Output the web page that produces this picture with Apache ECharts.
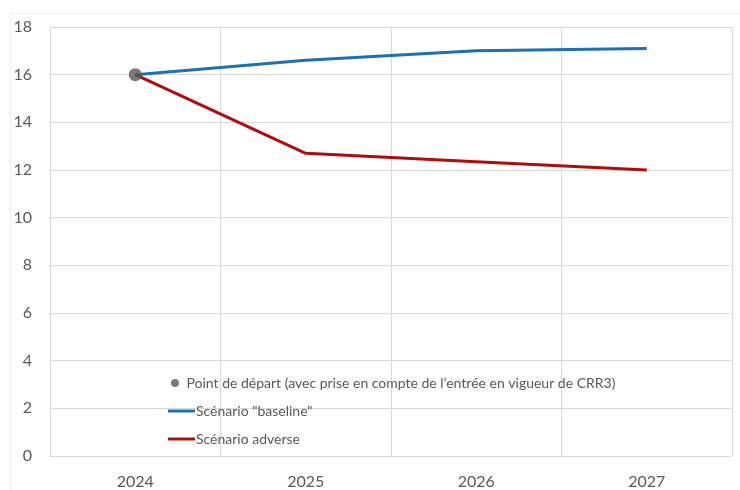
<!DOCTYPE html>
<html>
<head>
<meta charset="utf-8">
<script src="https://cdn.jsdelivr.net/npm/echarts@6/dist/echarts.min.js"></script>
<style>
html,body{margin:0;padding:0;background:#fff;}
#chart{width:740px;height:490px;}
</style>
</head>
<body>
<div id="chart"></div>
<script>
const years = ['2024', '2025', '2026', '2027'];
const startPoint = [16, null, null, null];
const baseline = [16, 16.6, 17.0, 17.1];
const adverse = [16, 12.7, 12.35, 12.0];
const yTicks = { min: 0, max: 18, interval: 2 };
const names = {
  start: "Point de départ (avec prise en compte de l'entrée en vigueur de CRR3)",
  base: 'Scénario "baseline"',
  adv: 'Scénario adverse'
};

const FONT = 'Lato, "Open Sans", sans-serif';
const TXT = '#595959';
const BLUE = '#1f6fb2';
const RED = '#b00c0c';
const chart = echarts.init(document.getElementById('chart'), null, { renderer: 'canvas' });
const legendText = { color: TXT, fontSize: 14, fontFamily: FONT, padding: [0, 0, 0, -4] };
const lineIcon = 'path://M0,0 L27,0 L27,3 L0,3 Z';
chart.setOption({
  animation: false,
  backgroundColor: '#fff',
  graphic: [
    { type: 'line', shape: { x1: 10, y1: 13.5, x2: 740, y2: 13.5 }, style: { stroke: '#f0f0f0', lineWidth: 1 }, silent: true },
    { type: 'line', shape: { x1: 10.5, y1: 13, x2: 10.5, y2: 490 }, style: { stroke: '#f0f0f0', lineWidth: 1 }, silent: true }
  ],
  grid: { left: 50, right: 8, top: 27, bottom: 34, containLabel: false },
  legend: [
    { data: [{ name: names.start, icon: 'circle' }], orient: 'vertical', left: 166, top: 371,
      itemWidth: 21, itemHeight: 8, itemGap: 0, textStyle: legendText, selectedMode: false },
    { data: [{ name: names.base, icon: lineIcon, itemStyle: { color: BLUE } }], orient: 'vertical', left: 163, top: 399,
      itemWidth: 27, itemHeight: 14, itemGap: 0, textStyle: legendText, selectedMode: false },
    { data: [{ name: names.adv, icon: lineIcon, itemStyle: { color: RED } }], orient: 'vertical', left: 163, top: 427,
      itemWidth: 27, itemHeight: 14, itemGap: 0, textStyle: legendText, selectedMode: false }
  ],
  xAxis: {
    type: 'category',
    data: years,
    boundaryGap: true,
    axisLine: { show: true, lineStyle: { color: '#d9d9d9' } },
    axisTick: { show: false },
    axisLabel: { color: TXT, fontSize: 16, fontFamily: FONT, margin: 18 },
    splitLine: { show: true, interval: 0, lineStyle: { color: '#d9d9d9' } }
  },
  yAxis: {
    type: 'value',
    min: yTicks.min, max: yTicks.max, interval: yTicks.interval,
    axisLine: { show: false },
    axisTick: { show: false },
    axisLabel: { color: TXT, fontSize: 16, fontFamily: FONT, margin: 18 },
    splitLine: { show: true, lineStyle: { color: '#d9d9d9' } }
  },
  series: [
    { name: names.base, type: 'line', data: baseline, symbol: 'none',
      lineStyle: { color: BLUE, width: 3 }, itemStyle: { color: BLUE }, z: 2 },
    { name: names.adv, type: 'line', data: adverse, symbol: 'none',
      lineStyle: { color: RED, width: 3 }, itemStyle: { color: RED }, z: 2 },
    { name: names.start, type: 'scatter', data: startPoint, symbolSize: 13,
      itemStyle: { color: '#595959' }, z: 5 }
  ]
});
</script>
</body>
</html>
